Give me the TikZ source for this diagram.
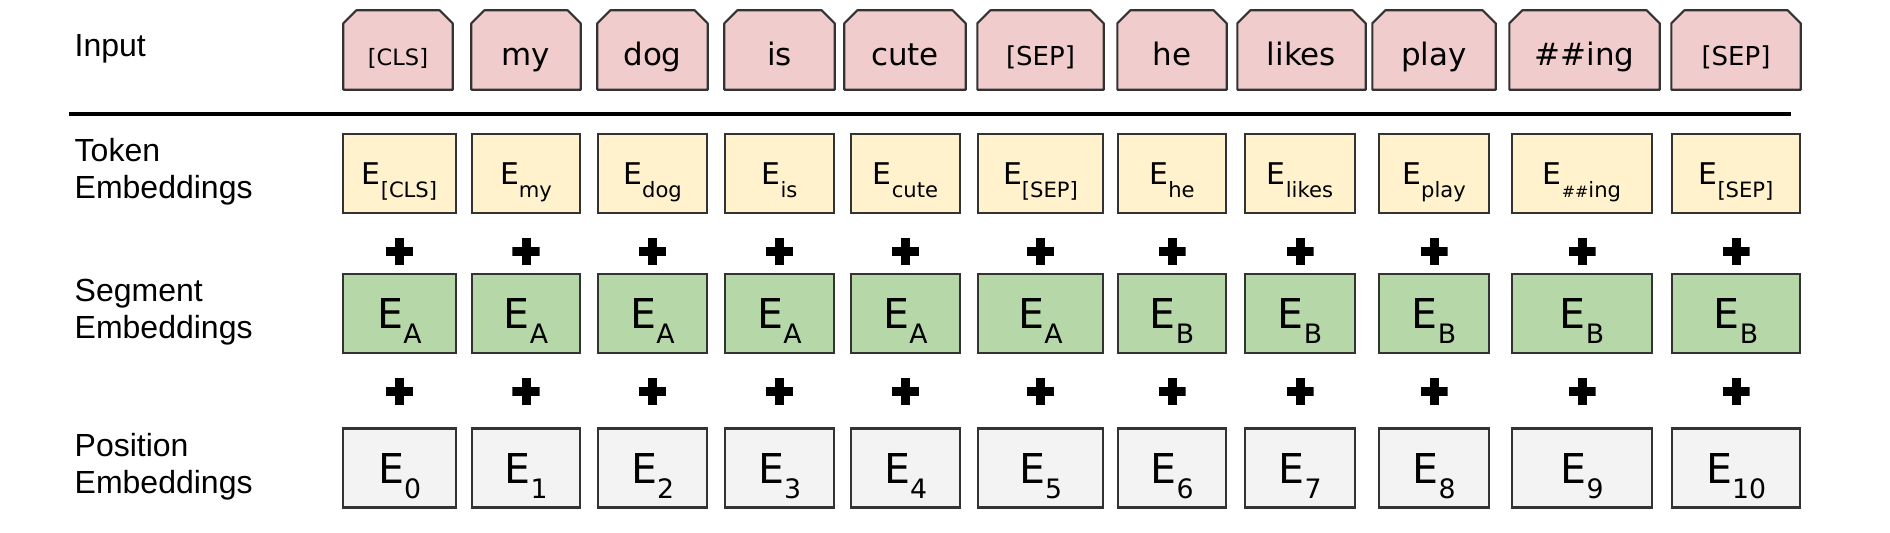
\documentclass[tikz,border=0pt]{standalone}
\usepackage{fontspec}
\setmainfont{DejaVu Sans}
\newfontfamily\labelfont{Liberation Sans}
\usetikzlibrary{positioning}
\definecolor{inpink}{HTML}{F1CCCD}
\definecolor{tokyellow}{HTML}{FFF2CC}
\definecolor{seggreen}{HTML}{B6D7A8}
\definecolor{posgray}{HTML}{F3F3F3}
\newcommand{\tokE}[1]{E\smash{\raisebox{-3.7pt}{\fontsize{6}{7}\selectfont #1}}}
\newcommand{\embE}[1]{E\smash{\raisebox{-4.4pt}{\fontsize{7.6}{9}\selectfont #1}}}
\tikzset{
    inbox/.style={rectangle, minimum height=0.78cm, inner sep=0pt},
    inshape/.style={draw=black!80, line width=0.6pt, fill=inpink, line join=round},
    inword/.style={inner sep=0pt, text height=10pt, text depth=1.4pt, font={\fontsize{8.8}{10}\selectfont}},
    embbox/.style={rectangle, draw=black!80, line width=0.6pt, minimum height=0.79cm, inner sep=0pt},
    tokbox/.style={embbox, fill=tokyellow, font={\fontsize{8.5}{10}\selectfont}},
    segbox/.style={embbox, fill=seggreen, font={\fontsize{11.7}{13}\selectfont}},
    posbox/.style={embbox, fill=posgray, font={\fontsize{11.7}{13}\selectfont}},
    rowlabel/.style={anchor=west, align=left, inner sep=0pt, font={\labelfont\fontsize{9.1}{10.5}\selectfont}},
    plussign/.style={minimum size=0.27cm, inner sep=0pt, path picture={
        \fill[black] ([yshift=-0.045cm]path picture bounding box.west) rectangle ([yshift=0.045cm]path picture bounding box.east);
        \fill[black] ([xshift=-0.045cm]path picture bounding box.south) rectangle ([xshift=0.045cm]path picture bounding box.north);}},
    rule/.style={line width=1.15pt}
}
\begin{document}
\begin{tikzpicture}[x=0.01cm, y=-0.01cm]
\useasboundingbox (0,0) rectangle (1890,532);
\node[rowlabel] (inputlbl) at (74,49) {Input};
\node[rowlabel] (toklbl) at (74,172) {Token\\Embeddings};
\node[rowlabel] (seglbl) at (74,312) {Segment\\Embeddings};
\node[rowlabel] (poslbl) at (74,467) {Position\\Embeddings};
\coordinate (ruleL) at (69,114);
\coordinate (ruleR) at (1791,114);
\draw[rule] (ruleL) -- (ruleR);
\foreach \i/\ic/\iw/\tc/\tw/\word/\sub/\seg in {
    0/398/108/399.5/113/{\fontsize{6.4}{8}\selectfont[CLS]}/{[CLS]}/A,
    1/526/108/526/108/my/my/A,
    2/652.5/109/652.5/109/dog/dog/A,
    3/779.5/109/779.5/109/is/is/A,
    4/905/120/905.5/109/cute/cute/A,
    5/1040.5/125/1040.5/125/{\fontsize{7.4}{8}\selectfont[SEP]}/{[SEP]}/A,
    6/1172/108/1172/108/he/he/B,
    7/1301.5/127/1300/110/likes/likes/B,
    8/1434/122/1434/110/play/play/B,
    9/1584.5/149/1582/140/\#\#ing/{{\fontsize{4.5}{5}\selectfont\#\#}ing}/B,
    10/1736/128/1736/128/{\fontsize{7.4}{8}\selectfont[SEP]}/{[SEP]}/B}
{
    \node[inbox, minimum width=\iw*0.01cm] (in\i) at (\ic,50) {};
    \draw[inshape] (in\i.south west) -- ([yshift=-0.13cm]in\i.north west) -- ([xshift=0.13cm]in\i.north west)
        -- ([xshift=-0.13cm]in\i.north east) -- ([yshift=-0.13cm]in\i.north east) -- (in\i.south east) -- cycle;
    \node[inword] (inw\i) at (in\i) {\word};
    \node[tokbox, minimum width=\tw*0.01cm] (tok\i) at (\tc,173.5) {\tokE{\sub}};
    \node[segbox, minimum width=\tw*0.01cm] (seg\i) at (\tc,313.5) {\embE{\seg}};
    \node[posbox, minimum width=\tw*0.01cm] (pos\i) at (\tc,468) {\embE{\i}};
    \node[plussign] (plusA\i) at (\tc,251) {};
    \node[plussign] (plusB\i) at (\tc,391) {};
}
\end{tikzpicture}
\end{document}
